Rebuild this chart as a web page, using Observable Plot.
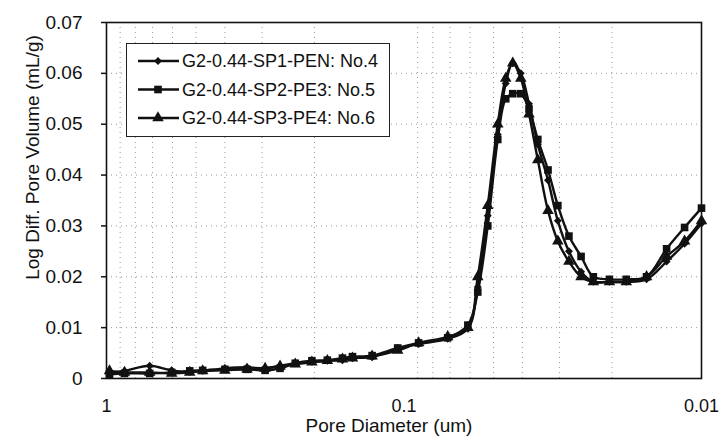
<!DOCTYPE html>
<html><head><meta charset="utf-8">
<script src="https://cdn.jsdelivr.net/npm/d3@7"></script>
<script src="https://cdn.jsdelivr.net/npm/@observablehq/plot@0.6"></script>
<style>
body{margin:0;background:#fff;}
#wrap{position:relative;width:722px;height:446px;font-family:"Liberation Sans",Arial,sans-serif;color:#111;}
#legend{position:absolute;left:126px;top:43px;width:264px;height:94px;border:1.5px solid #222;background:#fff;box-sizing:border-box;}
</style></head><body>
<div id="wrap"><div id="chart"></div><div id="legend"></div></div>
<script>
// Pore diameters (um)
const diameters = [0.977,0.87,0.716,0.604,0.525,0.475,0.40,0.337,0.293,0.261,0.232,0.204,0.181,0.161,0.149,0.128,0.105,0.0893,0.0713,0.0610,
  0.0565,0.0523,0.0484,0.0455,0.0431,0.0405,0.0380,0.0355,0.0328,0.0304,0.0279,0.0254,0.0231,0.0204,0.0179,0.0153,0.0131,0.0114,0.0100];
// Log Diff. Pore Volume (mL/g)
const no4 = [0.0012,0.0015,0.0025,0.0016,0.0013,0.0015,0.0020,0.0022,0.0020,0.0025,0.0030,0.0033,0.0035,0.0036,0.0040,0.0042,0.0058,0.0068,0.0078,0.0098,
  0.018,0.032,0.048,0.058,0.062,0.060,0.054,0.046,0.039,0.031,0.025,0.021,0.019,0.019,0.019,0.0195,0.023,0.0265,0.0305];
const no5 = [0.0008,0.0010,0.0010,0.0012,0.0015,0.0016,0.0018,0.0018,0.0016,0.0020,0.0030,0.0035,0.0036,0.0040,0.0043,0.0045,0.0060,0.0070,0.0080,0.0105,
  0.017,0.030,0.047,0.055,0.056,0.056,0.053,0.047,0.041,0.034,0.028,0.024,0.020,0.0195,0.0195,0.020,0.0255,0.0297,0.0335];
const no6 = [0.0015,0.0012,0.0012,0.0010,0.0012,0.0015,0.0016,0.0018,0.0020,0.0024,0.0028,0.0032,0.0035,0.0038,0.0040,0.0044,0.0055,0.0070,0.0082,0.0100,
  0.020,0.034,0.050,0.059,0.062,0.059,0.052,0.043,0.033,0.027,0.023,0.020,0.019,0.019,0.019,0.020,0.024,0.027,0.031];
const seriesNames = ["G2-0.44-SP1-PEN: No.4","G2-0.44-SP2-PE3: No.5","G2-0.44-SP3-PE4: No.6"];
const seriesSymbols = ["diamond2","square","triangle"];
const seriesValues = [no4, no5, no6];
const xTicks = [1, 0.1, 0.01];
const xTickLabels = ["1", "0.1", "0.01"];
const yTicks = [0, 0.01, 0.02, 0.03, 0.04, 0.05, 0.06, 0.07];
const yTickLabels = ["0", "0.01", "0.02", "0.03", "0.04", "0.05", "0.06", "0.07"];
const xGrid = [0.9,0.8,0.7,0.6,0.5,0.4,0.3,0.2,0.09,0.08,0.07,0.06,0.05,0.04,0.03,0.02];
const xLabel = "Pore Diameter (um)";
const yLabel = "Log Diff. Pore Volume (mL/g)";

const rows = [];
seriesValues.forEach((vals, s) => vals.forEach((v, i) => rows.push({series: seriesNames[s], sym: seriesSymbols[s], d: diameters[i], v})));
const xTickRows = xTicks.map((t, i) => ({t, label: xTickLabels[i]}));

const font = '"Liberation Sans", Arial, sans-serif';
const chart = Plot.plot({
  width: 722, height: 446,
  marginLeft: 106, marginRight: 21, marginTop: 22, marginBottom: 68,
  style: {fontFamily: font, fontSize: "19px", color: "#111", background: "#fff", overflow: "visible"},
  x: {type: "log", domain: [1, 0.01], axis: null},
  y: {domain: [0, 0.07]},
  marks: [
    Plot.ruleX(xGrid, {stroke: "#999", strokeDasharray: "1,4", strokeWidth: 1}),
    Plot.ruleY(yTicks.filter(t => t > 0 && t < 0.07), {stroke: "#999", strokeDasharray: "1,4", strokeWidth: 1}),
    Plot.text(xTickRows, {x: "t", text: "label", frameAnchor: "bottom", dy: 33, fontSize: 18, fill: "#111"}),
    Plot.axisY({ticks: yTicks, tickFormat: d => yTickLabels[yTicks.indexOf(d)], tickSize: 5, tickPadding: 19, label: null, fontSize: 19, strokeWidth: 1.5}),
    Plot.text([xLabel], {frameAnchor: "bottom", dy: 53, dx: -15, fontSize: 19, fill: "#111"}),
    Plot.text([yLabel], {frameAnchor: "left", textAnchor: "middle", rotate: -90, dx: -74, dy: -43, fontSize: 19, fill: "#111"}),
    Plot.line(rows, {x: "d", y: "v", z: "series", curve: "catmull-rom", stroke: "#111", strokeWidth: 2.4}),
    Plot.dot(rows.filter(r => r.sym === "square"), {x: "d", y: "v", symbol: "square", r: 4.3, fill: "#111"}),
    Plot.dot(rows.filter(r => r.sym === "triangle"), {x: "d", y: "v", symbol: "triangle", r: 4.3, fill: "#111"}),
    Plot.dot(rows.filter(r => r.sym === "diamond2"), {x: "d", y: "v", symbol: "diamond2", r: 3.6, fill: "#111"}),
    Plot.frame({stroke: "#111", strokeWidth: 1.6})
  ]
});
document.getElementById("chart").appendChild(chart);

// Legend (inside plot area, as in reference)
const lg = d3.select("#legend").append("svg").attr("width", 261).attr("height", 91);
const symMap = {diamond2: d3.symbolDiamond2, square: d3.symbolSquare, triangle: d3.symbolTriangle};
const symSize = {diamond2: Math.PI * 3.6 * 3.6, square: Math.PI * 4.3 * 4.3, triangle: Math.PI * 4.3 * 4.3};
seriesNames.forEach((name, i) => {
  const g = lg.append("g").attr("transform", `translate(0,${17 + i * 28.5})`);
  g.append("line").attr("x1", 11).attr("x2", 52).attr("stroke", "#111").attr("stroke-width", 2.4);
  g.append("path").attr("transform", "translate(31,0)").attr("d", d3.symbol(symMap[seriesSymbols[i]], symSize[seriesSymbols[i]])()).attr("fill", "#111");
  g.append("text").attr("x", 55).attr("y", 0).attr("dy", "0.36em").attr("font-size", 18).attr("font-family", font).attr("fill", "#111").text(name);
});
</script>
</body></html>
